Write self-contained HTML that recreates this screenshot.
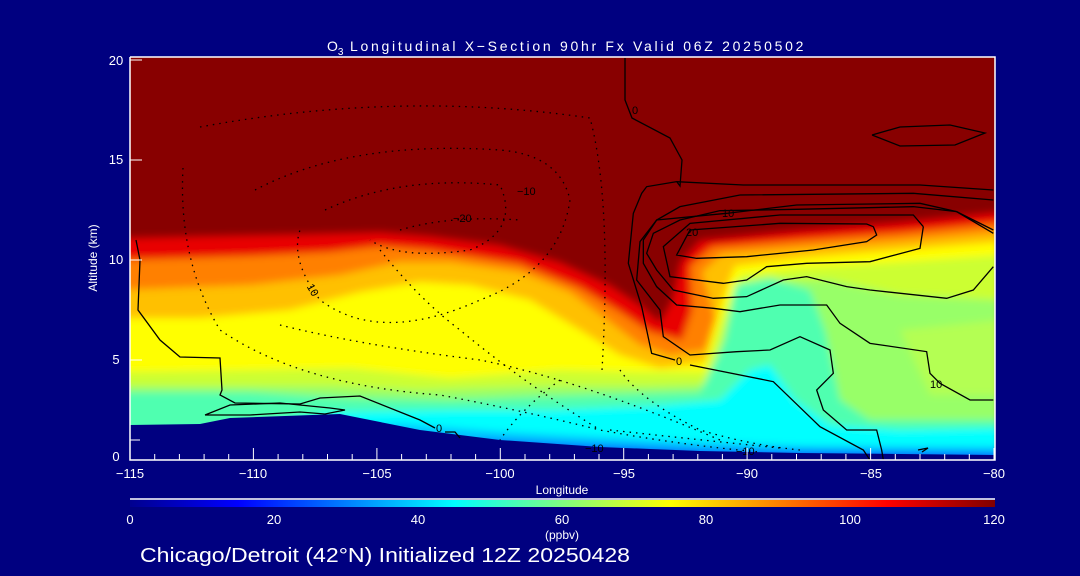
<!DOCTYPE html>
<html><head><meta charset="utf-8"><style>
html,body{margin:0;padding:0;background:#000080;}
svg{display:block;font-family:"Liberation Sans",sans-serif;}
</style></head><body>
<svg width="1080" height="576" viewBox="0 0 1080 576" xmlns="http://www.w3.org/2000/svg">
<defs>
<clipPath id="pc"><rect x="130" y="57" width="865" height="403"/></clipPath>
<filter id="bl" x="-5%" y="-5%" width="110%" height="110%"><feGaussianBlur stdDeviation="4"/></filter>
<linearGradient id="jet" x1="0" x2="1" y1="0" y2="0">
<stop offset="0" stop-color="#00008f"/><stop offset="0.125" stop-color="#0000ff"/>
<stop offset="0.375" stop-color="#00ffff"/><stop offset="0.625" stop-color="#ffff00"/>
<stop offset="0.875" stop-color="#ff0000"/><stop offset="1" stop-color="#800000"/>
</linearGradient>
</defs>
<rect width="1080" height="576" fill="#000080"/>
<g clip-path="url(#pc)">
<rect x="130" y="57" width="865" height="403" fill="#880000"/>
<g filter="url(#bl)">
<polygon fill="#e80000" points="120,238 200,236 300,234 380,232 430,236 500,245 560,262 610,285 640,305 660,322 672,300 680,262 700,240 800,230 900,222 1000,212 1000,470 120,470"/>
<polygon fill="#ff8000" points="120,260 250,256 330,252 380,246 430,250 520,264 580,288 620,312 650,332 682,340 692,310 690,266 712,247 800,240 900,233 1000,223 1000,470 120,470"/>
<polygon fill="#ffc000" points="120,290 250,285 340,275 400,262 450,262 520,272 570,292 610,322 640,345 670,355 705,350 715,318 702,272 722,254 800,248 900,241 1000,232 1000,470 120,470"/>
<polygon fill="#ffff00" points="120,318 200,318 290,310 360,292 420,282 470,285 530,300 580,330 620,355 660,368 705,362 722,300 735,266 800,258 900,250 1000,242 1000,470 120,470"/>
<polygon fill="#ccff30" points="120,372 250,370 350,368 450,378 560,370 640,372 705,372 725,310 740,275 800,268 900,262 1000,255 1000,470 120,470"/>
<polygon fill="#98ff68" points="120,386 250,386 330,386 420,390 550,386 650,386 710,384 730,310 760,280 830,280 900,295 1000,300 1000,470 120,470"/>
<polygon fill="#c0ff48" opacity="0.7" points="900,330 1000,320 1000,395 930,395"/>
<polygon fill="#50ffb0" points="120,392 250,392 350,398 450,400 550,396 700,392 725,340 735,285 770,278 810,290 825,330 840,400 870,420 1000,420 1000,470 120,470"/>
<polygon fill="#00ffff" points="120,432 250,428 330,412 450,410 550,410 650,406 720,400 750,370 770,365 795,400 830,425 900,430 1000,428 1000,470 120,470"/>
<polygon fill="#00c0ff" points="330,428 400,424 500,432 650,440 800,446 1000,447 1000,470 330,470"/>
<polygon fill="#0060ff" points="480,440 700,450 1000,453 1000,470 480,470"/>
</g>
<polygon fill="#000080" points="130,425 200,424 230,418 340,414 360,418 420,430 500,440 600,447 700,451 800,453 995,455 995,461 130,461"/>
<g fill="none" stroke="#000" stroke-width="1.3">
<polyline points="136,240 140,260 138,310 160,340 180,357 220,358 222,390 220,395 235,403 300,404 320,398 360,396 420,420 435,428"/>
<polyline points="205,415 230,405 280,403 330,408 345,410 325,414 300,412 250,415 205,415"/>
<polyline points="445,432 455,432 460,438"/>
<polyline points="625,58 625,100 632,118 670,138 682,160 680,186 677,182"/>
<g transform="translate(580,180) scale(0.33333)">
<polyline vector-effect="non-scaling-stroke" points="285,540 215,520 185,380 145,250 160,100 185,40 200,20 290,5 490,15 1020,15 1240,30"/>
<polyline vector-effect="non-scaling-stroke" points="330,555 580,605 720,740 850,810 870,840"/>
<polyline vector-effect="non-scaling-stroke" points="1240,160 1130,95 1020,70 650,75 440,100 230,120 180,185 170,300 240,390 250,470 330,525 470,515 570,510 660,470 750,510 760,580 710,630 730,690 800,750 890,750 905,810 910,840"/>
<polyline vector-effect="non-scaling-stroke" points="880,140 860,132 600,130 330,150 290,225 350,235 500,230 700,210 860,185 890,165 880,140"/>
<polyline vector-effect="non-scaling-stroke" points="1030,140 1000,105 600,105 330,130 250,200 270,290 430,310 500,300 560,260 680,250 870,245 1020,205 1030,140"/>
<polyline vector-effect="non-scaling-stroke" points="1240,260 1180,330 1100,355 870,330 800,320 680,290 610,300 500,350 400,355 280,330 230,270 200,220 220,160 300,120 420,92 650,88 1000,80 1130,95 1240,150"/>
<polyline vector-effect="non-scaling-stroke" points="1240,660 1170,660 1080,610 1050,580 1040,515 870,490 780,430 740,375 600,375 480,395 400,385 290,375 230,320 190,250 190,180 230,120 300,80 480,45 1000,40 1240,60"/>
</g>
<polyline points="872,135 900,127 950,125 985,133 955,145 900,146 872,135"/>
<polyline points="918,450 928,448 922,452"/>
</g>
<g fill="none" stroke="#000" stroke-width="1.3" stroke-dasharray="1.5 5">
<path d="M200,127 Q400,90 590,118 Q612,200 602,370"/>
<path d="M183,168 Q178,260 220,330 Q300,385 440,395 Q520,410 600,430 Q680,445 760,452"/>
<path d="M255,190 Q350,140 500,150 Q560,155 570,200 Q560,270 480,300 Q380,345 320,300 Q290,260 300,230"/>
<path d="M325,210 Q400,175 500,185 Q520,230 470,250 Q400,260 370,240"/>
<path d="M400,230 Q450,215 520,220"/>
<path d="M380,250 Q420,300 460,330 Q520,380 600,430"/>
<path d="M280,325 Q360,345 480,360 Q580,380 720,440"/>
<path d="M560,380 Q520,410 500,440"/>
<path d="M620,370 Q640,400 700,430 Q750,445 800,450"/>
<path d="M610,430 Q700,440 780,448"/>
</g>
<g font-size="11" fill="#000">
<text x="517" y="195">−10</text><text x="453" y="222">−20</text>
<text x="308" y="292" transform="rotate(60 312 288)">10</text>
<text x="722" y="217">10</text><text x="686" y="236">20</text>
<text x="676" y="365">0</text><text x="436" y="432">0</text>
<text x="930" y="388">10</text><text x="585" y="452">−10</text><text x="736" y="455">−10</text>
<text x="632" y="114">0</text>
</g>
</g>
<g stroke="#fff" stroke-width="1.5" fill="none">
<polyline points="130,57 995,57 995,460 130,460 130,57"/>
</g>
<g stroke="#fff" stroke-width="1">
<path d="M130,460v-12M253.4,460v-12M376.9,460v-12M500.3,460v-12M623.7,460v-12M747.1,460v-12M870.6,460v-12M994,460v-12"/>
<path d="M154.7,460v-6M179.4,460v-6M204.1,460v-6M228.7,460v-6M278.1,460v-6M302.8,460v-6M327.5,460v-6M352.2,460v-6M401.6,460v-6M426.3,460v-6M451,460v-6M475.6,460v-6M525,460v-6M549.7,460v-6M574.4,460v-6M599,460v-6M648.4,460v-6M673.1,460v-6M697.8,460v-6M722.4,460v-6M771.8,460v-6M796.5,460v-6M821.2,460v-6M845.9,460v-6M895.3,460v-6M920,460v-6M944.7,460v-6M969.3,460v-6"/>
<path d="M130,440h10M130,360h12M130,260h12M130,160h12M130,60h12"/>
</g>
<g fill="#fff" font-size="13">
<text x="116" y="461" text-anchor="middle">0</text>
<text x="116" y="364" text-anchor="middle">5</text>
<text x="116" y="264" text-anchor="middle">10</text>
<text x="116" y="164" text-anchor="middle">15</text>
<text x="116" y="65" text-anchor="middle">20</text>
<g text-anchor="middle">
<text x="130" y="478">−115</text><text x="253" y="478">−110</text><text x="377" y="478">−105</text>
<text x="500" y="478">−100</text><text x="624" y="478">−95</text><text x="747" y="478">−90</text>
<text x="871" y="478">−85</text><text x="994" y="478">−80</text>
<text x="562" y="494" font-size="12">Longitude</text>
</g>
<text x="0" y="0" font-size="12" text-anchor="middle" transform="translate(97,258) rotate(-90)">Altitude (km)</text>
<text x="327" y="51" font-size="14">O<tspan font-size="10" dy="4">3</tspan><tspan dy="-4" textLength="460" lengthAdjust="spacing"> Longitudinal X−Section 90hr  Fx Valid 06Z 20250502</tspan></text>
</g>
<line x1="130" y1="499" x2="995" y2="499" stroke="#fff" stroke-width="1.5"/>
<rect x="130" y="500" width="865" height="7" fill="url(#jet)"/>
<g fill="#fff" font-size="13" text-anchor="middle">
<text x="130" y="524">0</text><text x="274" y="524">20</text><text x="418" y="524">40</text>
<text x="562" y="524">60</text><text x="706" y="524">80</text><text x="850" y="524">100</text><text x="994" y="524">120</text>
<text x="562" y="539" font-size="12">(ppbv)</text>
</g>
<text x="140" y="562" fill="#fff" font-size="20" textLength="490" lengthAdjust="spacingAndGlyphs">Chicago/Detroit (42°N) Initialized 12Z 20250428</text>
</svg>
</body></html>
